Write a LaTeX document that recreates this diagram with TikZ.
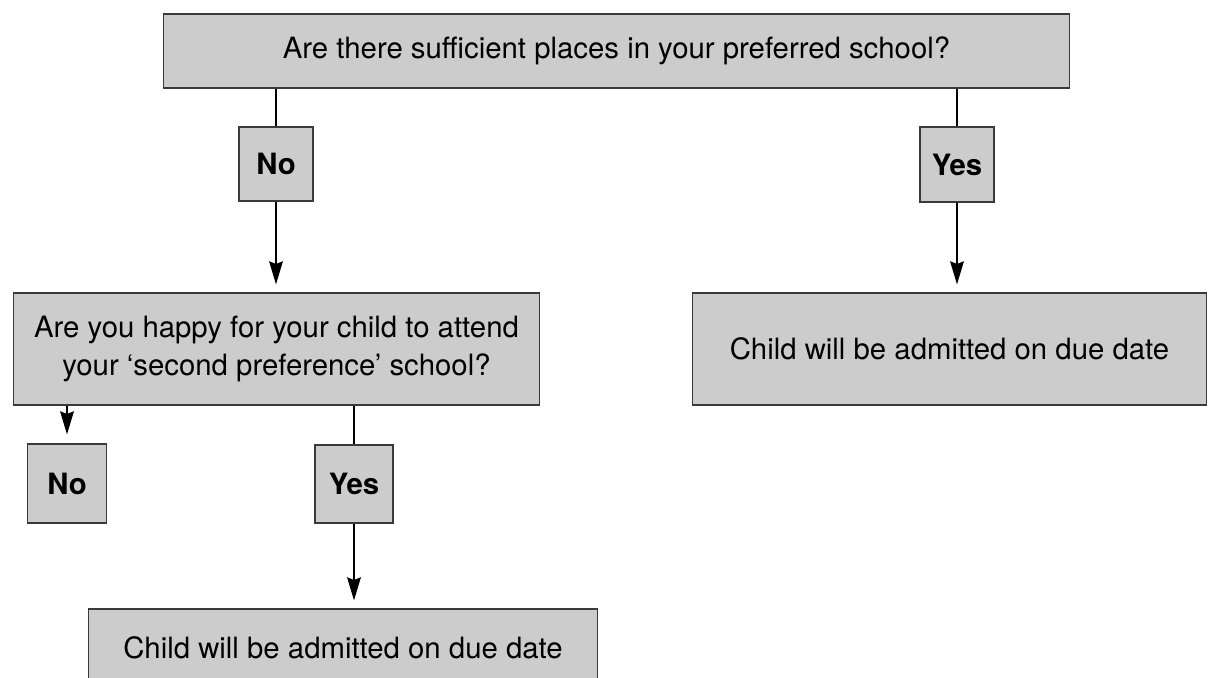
\documentclass[tikz,border=0pt]{standalone}
\usepackage{fontspec}
\setmainfont{TeX Gyre Heros}
\usepackage{xcolor}
\definecolor{boxFill}{HTML}{CCCCCC}
\definecolor{boxEdge}{HTML}{3A3A3A}
\usepackage{tikz}
\usetikzlibrary{arrows.meta,calc}
\tikzset{%
  questionBox/.style={%
    rectangle,
    draw=boxEdge,
    fill=boxFill,
    line width=0.6pt,
    inner sep=0pt,
    align=center,
    font=\fontsize{16.7}{22}\selectfont
  },
  answerBox/.style={%
    questionBox,
    font=\fontsize{16.7}{22}\selectfont\bfseries,
    minimum width=1.5cm,
    minimum height=1.5cm
  },
  resultBox/.style={%
    questionBox,
    minimum width=10.3cm,
    minimum height=2.24cm
  },
  arrowLine/.style={%
    -{Stealth[length=0.46cm,width=0.27cm,inset=0.05cm]},
    line width=1.4pt,
    shorten >=0.16cm
  },
  plainLine/.style={%
    line width=1.4pt
  }
}

\begin{document}
\begin{tikzpicture}[x=0.02cm,y=-0.02cm]
  \useasboundingbox (0,0) rectangle (1208,677);
  \clip (0,0) rectangle (1208,677);

  \node[questionBox, minimum width=18.14cm, minimum height=1.48cm] (sufficient) at (616.5,51)
    {Are there sufficient places in your preferred school?};
  \node[answerBox, minimum width=1.48cm, minimum height=1.48cm] (noFirst) at (276,164) {No};
  \node[answerBox, minimum width=1.48cm, minimum height=1.5cm] (yesFirst) at (957,164.5) {Yes};

  \node[questionBox, minimum width=10.54cm, minimum height=2.24cm] (happy) at (276.5,349)
    {Are you happy for your child to attend\\your ‘second preference’ school?};
  \node[resultBox] (admitRight) at (949.5,349) {Child will be admitted on due date};

  \node[answerBox, minimum width=1.58cm, minimum height=1.58cm] (noSecond) at (67,483.5) {No};
  \node[answerBox, minimum width=1.56cm, minimum height=1.56cm] (yesSecond) at (354,484) {Yes};
  \node[resultBox, minimum width=10.2cm, minimum height=1.56cm] (admitBottom) at (343,648)
    {Child will be admitted on due date};

  \draw[plainLine] (sufficient.south -| noFirst.north) -- (noFirst.north);
  \draw[arrowLine] (noFirst.south) -- (noFirst.south |- happy.north);
  \draw[plainLine] (sufficient.south -| yesFirst.north) -- (yesFirst.north);
  \draw[arrowLine] (yesFirst.south) -- (yesFirst.south |- admitRight.north);

  \draw[arrowLine, shorten >=0.18cm] (happy.south -| noSecond.north) -- (noSecond.north);
  \draw[plainLine] (happy.south -| yesSecond.north) -- (yesSecond.north);
  \draw[arrowLine] (yesSecond.south) -- (yesSecond.south |- admitBottom.north);
\end{tikzpicture}
\end{document}
